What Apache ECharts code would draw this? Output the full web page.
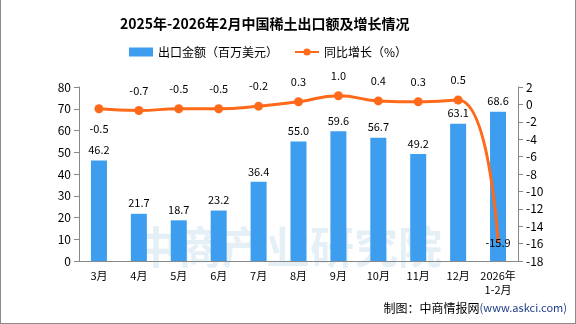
<!DOCTYPE html>
<html><head><meta charset="utf-8">
<script src="https://cdn.jsdelivr.net/npm/echarts@6/dist/echarts.min.js"></script>
<style>html,body{margin:0;padding:0;background:#fff}#c{width:576px;height:324px;box-sizing:border-box;border:1px solid #8a8a8a;border-top:none}</style>
</head><body><div id="c"></div>
<script>
const categories = ['3月','4月','5月','6月','7月','8月','9月','10月','11月','12月','2026年\n1-2月'];
const exportValue = [46.2,21.7,18.7,23.2,36.4,55.0,59.6,56.7,49.2,63.1,68.6];
const yoyGrowth = [-0.5,-0.7,-0.5,-0.5,-0.2,0.3,1.0,0.4,0.3,0.5,-15.9];
const FONT = '"Noto Sans CJK SC", sans-serif';
const chart = echarts.init(document.getElementById('c'));
const lineData = yoyGrowth.map((v,i)=>{
  const o = {value:v};
  if(i===0) o.label = {position:'bottom'};
  if(i===yoyGrowth.length-1){ o.label = {position:'inside', color:'#000'}; o.symbolSize = 0; }
  return o;
});
chart.setOption({
  animation:false,
  textStyle:{fontFamily:FONT},
  title:{text:'2025年-2026年2月中国稀土出口额及增长情况',left:114,top:12,textStyle:{fontSize:14,fontWeight:'bold',color:'#000',fontFamily:FONT}},
  legend:{top:41,left:123,itemGap:16,itemWidth:24,itemHeight:9,textStyle:{fontSize:12,color:'#000',fontFamily:FONT},
    data:[{name:'出口金额（百万美元）',icon:'rect'},{name:'同比增长（%）'}]},
  graphic:[
    {type:'text',left:'center',top:225,z:0,style:{text:'中商产业研究院',fontSize:44,fontWeight:'bold',fill:'rgba(150,190,220,0.25)',fontFamily:FONT}},
    {type:'text',right:8,top:302,style:{rich:{a:{fontSize:12,fill:'#000',fontFamily:FONT},b:{fontSize:11,fill:'#1f3c88',fontFamily:FONT}},text:'{a|制图：中商情报网}{b|(www.askci.com)}'}}
  ],
  grid:{left:78,right:57,top:87,bottom:62},
  xAxis:{type:'category',data:categories,axisLine:{lineStyle:{color:'#888'}},axisTick:{lineStyle:{color:'#888'}},
    axisLabel:{color:'#000',fontSize:11,interval:0,lineHeight:14,fontFamily:FONT}},
  yAxis:[
    {type:'value',min:0,max:80,interval:10,splitLine:{show:false},axisLine:{show:true,lineStyle:{color:'#888'}},axisTick:{show:true,lineStyle:{color:'#888'}},axisLabel:{color:'#000',fontSize:12}},
    {type:'value',min:-18,max:2,interval:2,splitLine:{show:false},axisLine:{show:true,lineStyle:{color:'#888'}},axisTick:{show:true,lineStyle:{color:'#888'}},axisLabel:{color:'#000',fontSize:12}}
  ],
  series:[
    {name:'出口金额（百万美元）',type:'bar',data:exportValue,barWidth:16,itemStyle:{color:'#3d9ef0'},
      label:{show:true,position:'top',color:'#000',fontSize:11,formatter:p=>p.value.toFixed(1)}},
    {name:'同比增长（%）',type:'line',yAxisIndex:1,data:lineData,smooth:true,symbol:'circle',symbolSize:9,
      lineStyle:{color:'#ff6a1a',width:3},itemStyle:{color:'#ff6a1a'},
      label:{show:true,position:'top',distance:10,color:'#000',fontSize:11,formatter:p=>p.value.toFixed(1)}}
  ]
});
</script></body></html>
